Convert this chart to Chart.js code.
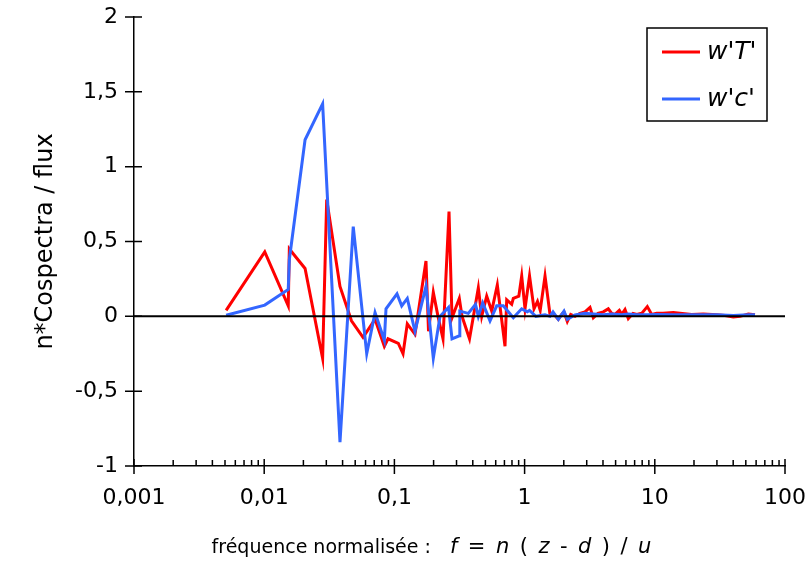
<!DOCTYPE html>
<html>
<head>
<meta charset="utf-8">
<script src="https://cdn.jsdelivr.net/npm/chart.js@4/dist/chart.umd.min.js"></script>
<style>
  body { margin: 0; background: #fff; }
  canvas { display: block; }
</style>
</head>
<body>
<canvas id="myChart" width="812" height="565"></canvas>
<script>
// normalised frequency and cospectrum values
var freqT = [0.0051, 0.0101, 0.0153, 0.0156, 0.0206, 0.0281, 0.0302, 0.0382, 0.0468, 0.0574,
  0.0710, 0.0837, 0.0893, 0.1072, 0.1165, 0.1256, 0.1439, 0.1748, 0.1828, 0.199,
  0.2162, 0.2362, 0.2627, 0.277, 0.3151, 0.3306, 0.3774, 0.4411, 0.4683, 0.5115,
  0.5589, 0.6172, 0.7072, 0.7287, 0.796, 0.819, 0.9026, 0.95, 1.007, 1.091,
  1.181, 1.256, 1.318, 1.435, 1.567, 1.653, 1.815, 1.927, 2.007, 2.128,
  2.26, 2.438, 2.664, 2.91, 3.179, 3.371, 3.662, 4.023, 4.394, 4.667,
  4.947, 5.338, 5.57, 5.904, 6.259, 6.803, 7.261, 7.932, 8.758, 9.468,
  10.34, 11.56, 13.87, 15.62, 19.2, 23.58, 29.89, 34.61, 40.09, 45.11, 52.25, 58.84];
var wT = [0.04, 0.43, 0.07, 0.45, 0.32, -0.28, 0.78, 0.20, -0.03, -0.14,
  -0.02, -0.20, -0.15, -0.18, -0.25, -0.05, -0.12, 0.37, -0.10, 0.16,
  0.0, -0.15, 0.70, -0.01, 0.12, 0.0, -0.15, 0.19, 0.0, 0.135,
  0.035, 0.21, -0.20, 0.11, 0.08, 0.12, 0.135, 0.27, 0.05, 0.27,
  0.05, 0.10, 0.04, 0.27, 0.013, 0.02, -0.02, 0.013, 0.03, -0.035,
  0.013, 0.0, 0.02, 0.03, 0.06, -0.01, 0.02, 0.03, 0.05, 0.02,
  0.013, 0.04, 0.013, 0.045, -0.015, 0.02, 0.013, 0.02, 0.065, 0.013,
  0.02, 0.02, 0.025, 0.02, 0.012, 0.015, 0.01, 0.005, -0.005, 0.0, 0.015, 0.01];

var freqC = [0.0051, 0.0101, 0.0153, 0.0156, 0.0206, 0.0281, 0.0382, 0.0483, 0.0613, 0.0710,
  0.0837, 0.0862, 0.1047, 0.1138, 0.1256, 0.1439, 0.1748, 0.199, 0.224, 0.2604,
  0.277, 0.3151, 0.318, 0.3695, 0.4197, 0.4411, 0.4767, 0.5423, 0.6107, 0.6862,
  0.819, 0.95, 1.05, 1.091, 1.22, 1.435, 1.567, 1.653, 1.815, 2.007,
  2.128, 2.438, 2.91, 3.371, 4.023, 4.667, 5.57, 6.259, 7.261, 8.758,
  10.34, 13.87, 19.2, 29.89, 40.09, 52.25, 58.84];
var wC = [0.007, 0.075, 0.18, 0.38, 1.18, 1.42, -0.84, 0.60, -0.25, 0.025,
  -0.16, 0.05, 0.15, 0.07, 0.12, -0.10, 0.20, -0.28, 0.0, 0.06,
  -0.15, -0.13, 0.035, 0.02, 0.08, 0.0, 0.09, -0.03, 0.07, 0.07,
  -0.01, 0.05, 0.03, 0.04, 0.0, 0.01, 0.0, 0.03, -0.02, 0.035,
  -0.02, 0.01, 0.02, 0.015, 0.01, 0.015, 0.01, 0.015, 0.01, 0.01,
  0.012, 0.01, 0.01, 0.01, 0.005, 0.01, 0.01];

var xTicks = [0.001, 0.01, 0.1, 1, 10, 100];
var seriesNames = ["w'T'", "w'c'"];
var seriesColors = ['#ff0000', '#3366ff'];
var yTitle = 'n*Cospectra / flux';
// [text, italic, font size]
var xTitle = [['fréquence normalisée :\u2002\u2002', false, 19], ['f', true, 21], ['\u2002=\u2002', false, 21],
  ['n', true, 21], ['\u2002(\u2002', false, 21], ['z', true, 21], ['\u2002-\u2002', false, 21], ['d', true, 21],
  ['\u2002)\u2002/\u2002', false, 21], ['u', true, 21]];

var FONT = 'DejaVu Sans';

function pts(xs, ys) {
  var out = [];
  for (var i = 0; i < xs.length; i++) out.push({x: xs[i], y: ys[i]});
  return out;
}
function comma(v) { return String(v).replace('.', ','); }
function segFont(s) { return (s[1] ? 'italic ' : '') + s[2] + 'px "' + FONT + '"'; }

var extras = {
  id: 'extras',
  afterDatasetsDraw: function(chart) {
    var ctx = chart.ctx, sx = chart.scales.x, sy = chart.scales.y, a = chart.chartArea;
    ctx.save();
    ctx.strokeStyle = '#000';

    // zero line
    ctx.lineWidth = 2;
    var y0 = sy.getPixelForValue(0);
    ctx.beginPath(); ctx.moveTo(a.left, y0); ctx.lineTo(a.right, y0); ctx.stroke();

    // tick marks
    ctx.lineWidth = 1.5;
    ctx.beginPath();
    for (var v = -1; v <= 2; v += 0.5) {
      var py = sy.getPixelForValue(v);
      ctx.moveTo(a.left - 9, py); ctx.lineTo(a.left + 8, py);
    }
    for (var i = 0; i < xTicks.length; i++) {
      var px = sx.getPixelForValue(xTicks[i]);
      ctx.moveTo(px, a.bottom - 7); ctx.lineTo(px, a.bottom + 8);
      if (i < xTicks.length - 1) {
        for (var k = 2; k <= 9; k++) {
          var mx = sx.getPixelForValue(xTicks[i] * k);
          ctx.moveTo(mx, a.bottom - 6); ctx.lineTo(mx, a.bottom);
        }
      }
    }
    ctx.stroke();

    // legend box
    var bx = a.right - 138, by = a.top + 11;
    ctx.lineWidth = 1.5;
    ctx.strokeRect(bx, by, 120, 93);
    ctx.font = 'italic 25px "' + FONT + '"';
    ctx.textBaseline = 'middle';
    ctx.fillStyle = '#000';
    for (var j = 0; j < chart.data.datasets.length; j++) {
      var ds = chart.data.datasets[j];
      var ly = by + 24 + j * 47;
      ctx.strokeStyle = ds.borderColor;
      ctx.lineWidth = 3;
      ctx.beginPath(); ctx.moveTo(bx + 15, ly); ctx.lineTo(bx + 53, ly); ctx.stroke();
      ctx.fillText(ds.label, bx + 60, ly);
    }

    // x axis title with italic symbols
    var total = 0, k2;
    for (k2 = 0; k2 < xTitle.length; k2++) {
      ctx.font = segFont(xTitle[k2]);
      total += ctx.measureText(xTitle[k2][0]).width;
    }
    var tx = (a.left + a.right) / 2 - 28 - total / 2;
    ctx.textAlign = 'left';
    for (k2 = 0; k2 < xTitle.length; k2++) {
      ctx.font = segFont(xTitle[k2]);
      ctx.fillText(xTitle[k2][0], tx, a.bottom + 82);
      tx += ctx.measureText(xTitle[k2][0]).width;
    }
    ctx.restore();
  }
};

new Chart(document.getElementById('myChart').getContext('2d'), {
  type: 'line',
  data: {
    datasets: [{
      label: seriesNames[0],
      data: pts(freqT, wT),
      borderColor: seriesColors[0],
      borderWidth: 3,
      pointRadius: 0,
      tension: 0,
      fill: false,
      order: 1
    }, {
      label: seriesNames[1],
      data: pts(freqC, wC),
      borderColor: seriesColors[1],
      borderWidth: 3,
      pointRadius: 0,
      tension: 0,
      fill: false,
      order: 0
    }]
  },
  options: {
    responsive: false,
    animation: false,
    layout: { padding: { top: 17, right: 27, left: 0, bottom: 0 } },
    plugins: { legend: { display: false }, tooltip: { enabled: false } },
    scales: {
      x: {
        type: 'logarithmic',
        min: 0.001,
        max: 100,
        afterBuildTicks: function(scale) {
          scale.ticks = xTicks.map(function(v) { return {value: v}; });
        },
        afterFit: function(scale) {
          scale.height = 99;
          scale.paddingLeft = 0;
          scale.paddingRight = 0;
        },
        grid: { display: false, drawTicks: false },
        border: { display: true, color: '#000', width: 1.5 },
        ticks: {
          color: '#000',
          font: { family: FONT, size: 22 },
          padding: 19,
          maxRotation: 0,
          autoSkip: false,
          callback: function(v) { return comma(v); }
        }
      },
      y: {
        min: -1,
        max: 2,
        afterFit: function(scale) {
          scale.width = 134;
          scale.paddingTop = 0;
          scale.paddingBottom = 0;
        },
        grid: { display: false, drawTicks: false },
        border: { display: true, color: '#000', width: 1.5 },
        ticks: {
          stepSize: 0.5,
          color: '#000',
          font: { family: FONT, size: 22 },
          padding: 16,
          callback: function(v) { return comma(v); }
        },
        title: {
          display: true,
          text: yTitle,
          color: '#000',
          font: { family: FONT, size: 24 },
          padding: { top: 31, bottom: 0 }
        }
      }
    }
  },
  plugins: [extras]
});
</script>
</body>
</html>
